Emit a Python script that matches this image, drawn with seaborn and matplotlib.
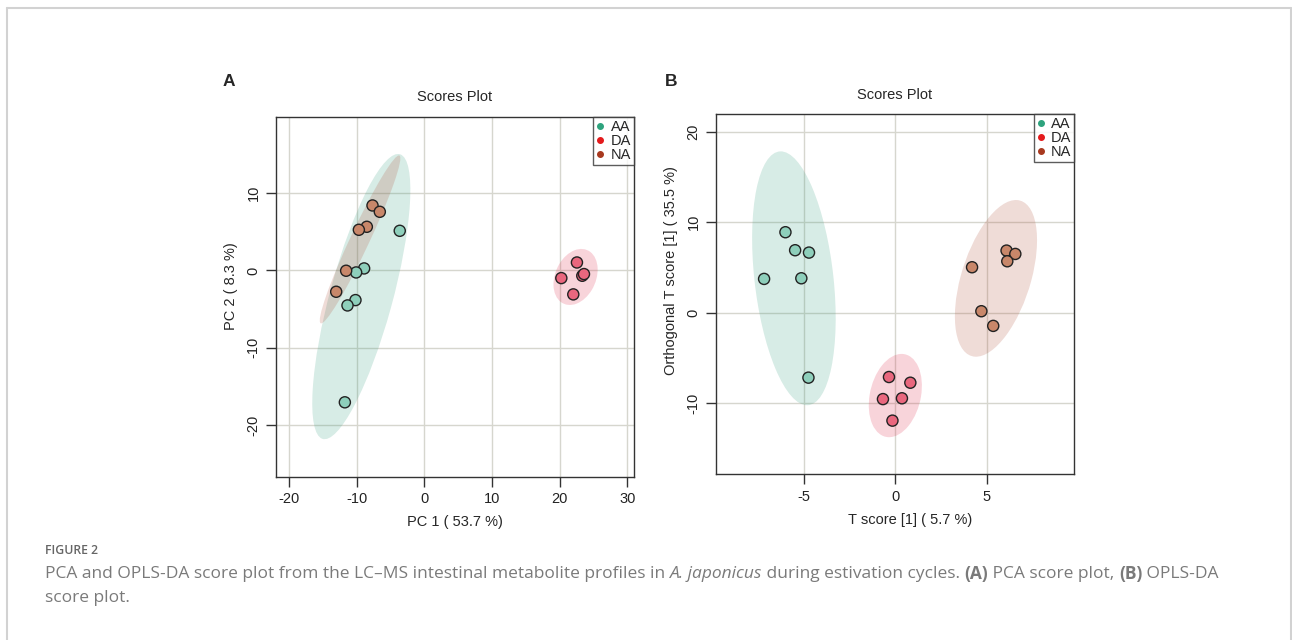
import numpy as np
import pandas as pd
import matplotlib
matplotlib.use("Agg")
import matplotlib.pyplot as plt
import seaborn as sns
from matplotlib.patches import Ellipse
from matplotlib.lines import Line2D

# ------------------------------------------------------------------ data
groups = ["AA", "DA", "NA"]

# PCA scores (panel A)
pca_group = ["AA"] * 6 + ["DA"] * 5 + ["NA"] * 6
pca_pc1 = [-3.65, -8.92, -10.10, -10.20, -11.38, -11.77,
           22.56, 20.25, 22.02, 23.35, 23.60,
           -7.68, -6.60, -8.52, -9.70, -11.58, -13.05]
pca_pc2 = [5.13, 0.26, -0.26, -3.84, -4.53, -17.07,
           1.03, -0.99, -3.10, -0.69, -0.47,
           8.41, 7.59, 5.65, 5.26, -0.04, -2.76]

# OPLS-DA scores (panel B)
opls_group = ["AA"] * 6 + ["DA"] * 5 + ["NA"] * 6
opls_t = [-6.02, -5.49, -4.73, -7.19, -5.15, -4.76,
          -0.35, 0.82, -0.68, 0.36, -0.16,
          6.09, 6.57, 6.13, 4.20, 4.71, 5.36]
opls_orth = [8.90, 6.91, 6.65, 3.74, 3.81, -7.17,
             -7.10, -7.73, -9.54, -9.45, -11.92,
             6.87, 6.50, 5.69, 5.03, 0.17, -1.45]

pca_xticks = [-20, -10, 0, 10, 20, 30]
pca_yticks = [-20, -10, 0, 10]
opls_xticks = [-5, 0, 5]
opls_yticks = [-10, 0, 10, 20]

point_colors = {"AA": "#8ecfbb", "DA": "#e9677e", "NA": "#c8876a"}
ellipse_colors = {"AA": "#3aa082", "DA": "#e0284a", "NA": "#b0503a"}
legend_colors = {"AA": "#2ea37d", "DA": "#e41a1c", "NA": "#a8391f"}

pca_df = pd.DataFrame({"group": pca_group, "x": pca_pc1, "y": pca_pc2})
opls_df = pd.DataFrame({"group": opls_group, "x": opls_t, "y": opls_orth})

# ------------------------------------------------------------------ style
sns.set_style("white")
plt.rcParams["font.family"] = ["Liberation Sans", "DejaVu Sans"]
plt.rcParams["axes.unicode_minus"] = False

W, H = 1292, 640
fig = plt.figure(figsize=(W / 100, H / 100), dpi=100)


def conf_ellipse(ax, x, y, color):
    # 95% normal confidence ellipse
    x, y = np.asarray(x), np.asarray(y)
    cov = np.cov(x, y)
    vals, vecs = np.linalg.eigh(cov)
    k = np.sqrt(-2 * np.log(0.05))
    angle = np.degrees(np.arctan2(vecs[1, 1], vecs[0, 1]))
    e = Ellipse((x.mean(), y.mean()), 2 * k * np.sqrt(vals[1]), 2 * k * np.sqrt(vals[0]),
                angle=angle, facecolor=color, edgecolor="none", alpha=0.2, zorder=1)
    ax.add_patch(e)


def score_panel(ax, df, xlim, ylim, xticks, yticks):
    ax.set_xlim(*xlim)
    ax.set_ylim(*ylim)
    ax.set_xticks(xticks)
    ax.set_yticks(yticks)
    ax.grid(True, color="#d6d6ce", lw=1)
    ax.set_axisbelow(True)
    for g in groups:
        sub = df[df.group == g]
        conf_ellipse(ax, sub.x, sub.y, ellipse_colors[g])
    sns.scatterplot(data=df, x="x", y="y", hue="group", palette=point_colors,
                    s=64, edgecolor="#222222", linewidth=1, legend=False, ax=ax, zorder=3)
    for s in ax.spines.values():
        s.set_color("#333333")
        s.set_linewidth(1)
    ax.tick_params(axis="both", direction="out", length=7, width=1, color="#333333",
                   labelsize=10.5, labelcolor="#222222", pad=4, bottom=True, left=True)
    ax.tick_params(axis="y", labelrotation=90)
    for lab in ax.get_yticklabels():
        lab.set_va("center")
    ax.set_title("Scores Plot", fontsize=10.5, pad=11)
    handles = [Line2D([], [], marker="o", ls="", color=legend_colors[g], markersize=4) for g in groups]
    leg = ax.legend(handles, groups, loc="upper right", fontsize=10.5, frameon=True,
                    fancybox=False, borderaxespad=0, borderpad=0.2, handlelength=0.6,
                    handletextpad=0.4, labelspacing=0.0)
    leg.get_frame().set_edgecolor("#333333")
    leg.get_frame().set_linewidth(1)


axA = fig.add_axes([275.7 / W, 1 - 476.7 / H, 358.3 / W, 360 / H])
score_panel(axA, pca_df, (-22, 31), (-26.7, 19.9), pca_xticks, pca_yticks)
axA.set_xlabel("PC 1 ( 53.7 %)", fontsize=10.5)
axA.set_ylabel("PC 2 ( 8.3 %)", fontsize=10.5)
axA.xaxis.set_label_coords(0.5, -0.106)
axA.yaxis.set_label_coords(-0.105, 0.528)

axB = fig.add_axes([715.7 / W, 1 - 474.3 / H, 358.6 / W, 360 / H])
score_panel(axB, opls_df, (-9.84, 9.8), (-17.85, 21.93), opls_xticks, opls_yticks)
axB.set_xlabel("T score [1] ( 5.7 %)", fontsize=10.5)
axB.set_ylabel("Orthogonal T score [1] ( 35.5 %)", fontsize=10.5)
axB.xaxis.set_label_coords(0.542, -0.1075)
axB.yaxis.set_label_coords(-0.105, 0.567)

fig.text(229 / W, 1 - 82 / H, "A", fontsize=12.5, fontweight="bold", ha="center", va="center")
fig.text(671 / W, 1 - 82 / H, "B", fontsize=12.5, fontweight="bold", ha="center", va="center")

# frame around the figure
for xs, ys in [((7, 7), (H, 8)), ((7, 1291), (8, 8)), ((1291, 1291), (8, H))]:
    fig.add_artist(Line2D([x / W for x in xs], [1 - y / H for y in ys], color="#d2d2d2", lw=1.5))

# caption
cap_font = ["Open Sans", "DejaVu Sans"]
cap_color = "#7a7a7a"
fig.text(45 / W, 1 - 551 / H, "FIGURE 2", fontsize=8.8, fontweight="semibold",
         color="#666666", family=cap_font, va="center")

runs = [("PCA and OPLS-DA score plot from the LC\u2013MS intestinal metabolite profiles in ", "normal", "normal"),
        ("A. japonicus", "normal", "italic"),
        (" during estivation cycles. ", "normal", "normal"),
        ("(A)", "bold", "normal"),
        (" PCA score plot, ", "normal", "normal"),
        ("(B)", "bold", "normal"),
        (" OPLS-DA", "normal", "normal")]
renderer = fig.canvas.get_renderer()
x = 45
for txt, wt, st in runs:
    t = fig.text(x / W, 1 - 574 / H, txt, fontsize=12.5, fontweight=wt, fontstyle=st,
                 color=cap_color, family=cap_font, va="center")
    x += t.get_window_extent(renderer).width
fig.text(45 / W, 1 - 598 / H, "score plot.", fontsize=12.5, color=cap_color,
         family=cap_font, va="center")

fig.savefig("out.png", dpi=100, facecolor="white")
